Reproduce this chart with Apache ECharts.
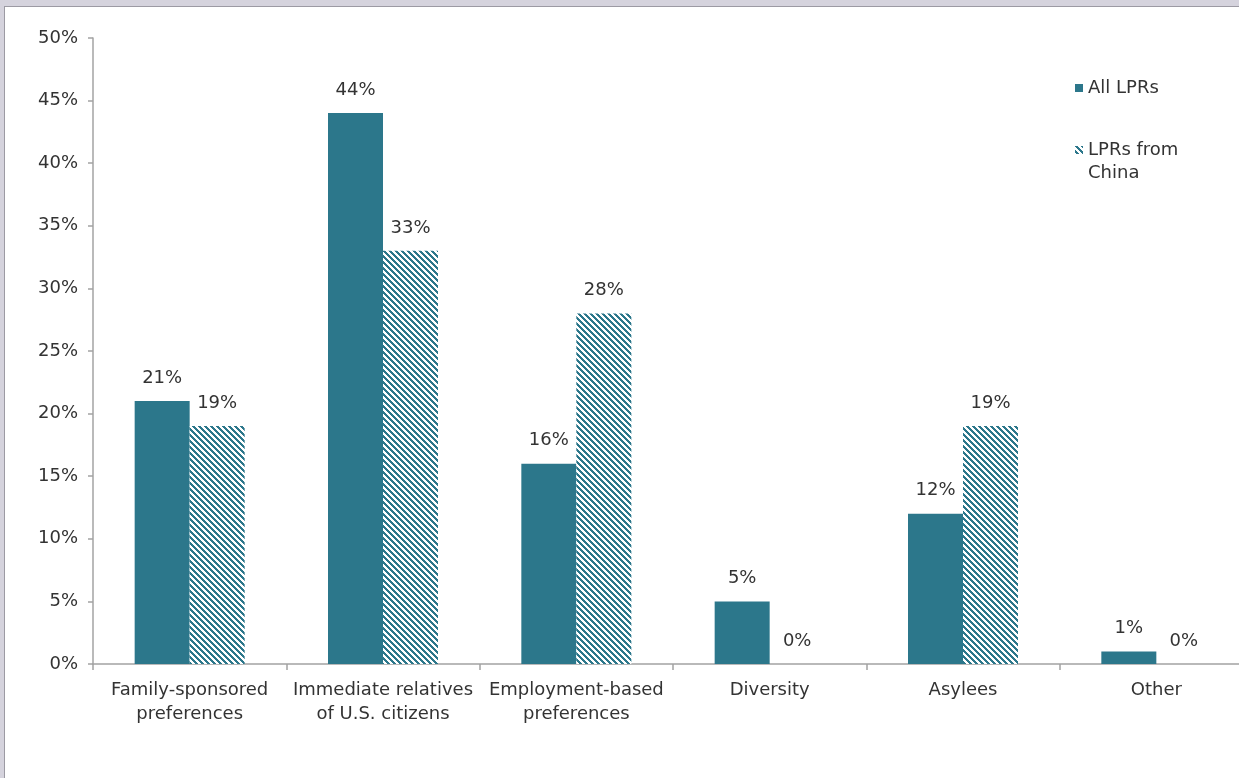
<!DOCTYPE html>
<html>
<head>
<meta charset="utf-8">
<script src="https://cdn.jsdelivr.net/npm/echarts@6/dist/echarts.min.js"></script>
<style>
  html, body { margin: 0; padding: 0; width: 1239px; height: 778px; overflow: hidden; background: #d5d3dd; }
  #frame { position: absolute; left: 4px; top: 6px; right: 0; bottom: 0; background: #ffffff;
           border-left: 1px solid #9c9aa3; border-top: 1px solid #9c9aa3; }
  /* the plot runs a little past the right edge of the window */
  #chart { position: absolute; left: 0; top: 0; width: 1260px; height: 778px; }
</style>
</head>
<body>
<div id="frame"></div>
<div id="chart"></div>
<script>
// Admission classes of new lawful permanent residents (share of total)
const categories = [
  'Family-sponsored\npreferences',
  'Immediate relatives\nof U.S. citizens',
  'Employment-based\npreferences',
  'Diversity',
  'Asylees',
  'Other'
];
const allLPRs = [21, 44, 16, 5, 12, 1];
const chinaLPRs = [19, 33, 28, 0, 19, 0];
const seriesNames = ['All LPRs', 'LPRs from China'];
const yTicks = { min: 0, max: 50, step: 5 };

const TEAL = '#2c778b';
const TEXT = '#333333';
const AXIS = '#a3a3a3';
const FONT = 'DejaVu Sans';

// Diagonal "\" hatch tile used for the China series
function hatchTile(n) {
  const c = document.createElement('canvas');
  c.width = n; c.height = n;
  const ctx = c.getContext('2d');
  ctx.fillStyle = '#ffffff';
  ctx.fillRect(0, 0, n, n);
  ctx.fillStyle = TEAL;
  for (let y = 0; y < n; y++) {
    for (let x = 0; x < n; x++) {
      if ((((x - y) % n) + n) % n < n / 2) ctx.fillRect(x, y, 1, 1);
    }
  }
  return c;
}
const hatch = { image: hatchTile(6), repeat: 'repeat' };

const chart = echarts.init(document.getElementById('chart'), null, { renderer: 'canvas' });

const labelStyle = {
  show: true,
  position: 'top',
  distance: 14,
  formatter: '{c}%',
  color: TEXT,
  fontFamily: FONT,
  fontSize: 18
};

chart.setOption({
  animation: false,
  backgroundColor: 'transparent',
  textStyle: { fontFamily: FONT },
  grid: { left: 93, top: 38, right: 7, bottom: 114, containLabel: false },
  legend: {
    orient: 'vertical',
    left: 1075,
    top: 79,
    padding: 0,
    itemWidth: 8,
    itemHeight: 8,
    itemGap: 44,
    icon: 'rect',
    data: seriesNames,
    formatter: function (name) { return name === 'LPRs from China' ? 'LPRs from' : name; },
    textStyle: { color: TEXT, fontFamily: FONT, fontSize: 18 }
  },
  graphic: [{
    type: 'text',
    left: 1088,
    top: 164,
    style: { text: 'China', fill: TEXT, font: '18px "' + FONT + '"' }
  }],
  xAxis: {
    type: 'category',
    data: categories,
    axisLine: { lineStyle: { color: AXIS, width: 1.5 } },
    axisTick: { show: true, interval: 0, length: 6, lineStyle: { color: AXIS, width: 1.5 } },
    axisLabel: {
      interval: 0,
      margin: 14,
      color: TEXT,
      fontFamily: FONT,
      fontSize: 18,
      lineHeight: 24
    },
    splitLine: { show: false }
  },
  yAxis: {
    type: 'value',
    min: yTicks.min,
    max: yTicks.max,
    interval: yTicks.step,
    axisLine: { show: true, lineStyle: { color: AXIS, width: 1.5 } },
    axisTick: { show: true, length: 5, lineStyle: { color: AXIS, width: 1.5 } },
    axisLabel: { formatter: '{value}%', margin: 15, color: TEXT, fontFamily: FONT, fontSize: 18 },
    splitLine: { show: false }
  },
  series: [
    {
      name: seriesNames[0],
      type: 'bar',
      data: allLPRs,
      barWidth: 55,
      barGap: '0%',
      itemStyle: { color: TEAL },
      label: labelStyle
    },
    {
      name: seriesNames[1],
      type: 'bar',
      data: chinaLPRs,
      barWidth: 55,
      barGap: '0%',
      itemStyle: { color: hatch },
      label: labelStyle
    }
  ]
});
</script>
</body>
</html>
